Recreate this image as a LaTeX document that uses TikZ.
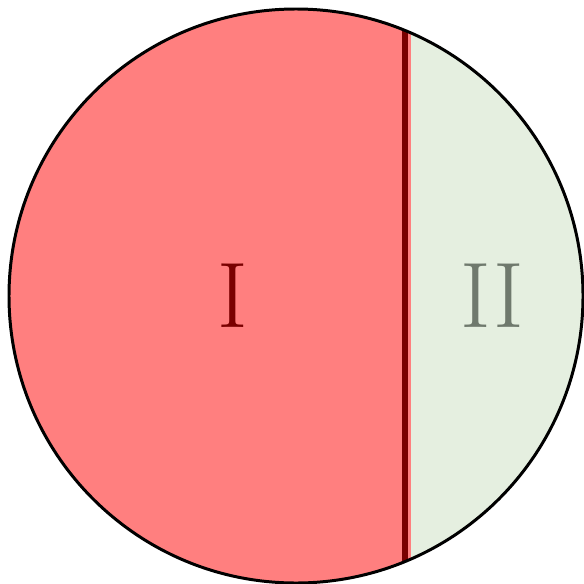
\documentclass[tikz,border=0pt]{standalone}
\usepackage{tikz}
\usetikzlibrary{calc}
\definecolor{regionone}{HTML}{FF7F7F}
\definecolor{regiontwo}{HTML}{E5EFE0}
\definecolor{labeltwo}{HTML}{6F796D}
\definecolor{cutline}{HTML}{7A0000}

\begin{document}
\begin{tikzpicture}[x=0.02cm,y=-0.02cm]

% --- STYLES ---
\tikzset{
  regionlabel/.style={font=\fontsize{53}{60}\selectfont, inner sep=0pt},
  rim/.style={draw=black, line width=1.7pt},
  chord/.style={draw=cutline, line width=3.4pt},
}

\useasboundingbox (0,0) rectangle (583,584);

% ================= DISC =================
\coordinate (c) at (296,296);
\fill[regiontwo] (c) circle (287);
\begin{scope}
  \clip (c) circle (287);
  \fill[regionone] (0,0) rectangle (411,584);
  \draw[chord] (405,0) -- (405,584);
\end{scope}
\draw[rim] (c) circle (287);

% ================= LABELS =================
\node[regionlabel, text=cutline] (one) at (233,296) {I};
\node[regionlabel, text=labeltwo] (two) at (492,296) {II};

\end{tikzpicture}
\end{document}
